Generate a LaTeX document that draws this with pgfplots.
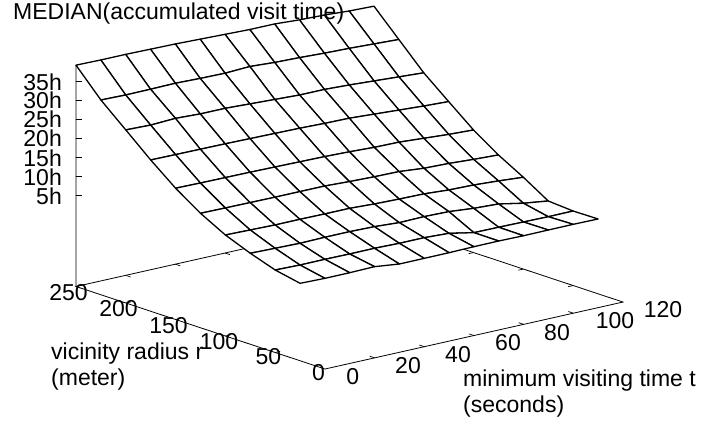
\documentclass[border=0pt]{standalone}
\usepackage{fontspec}
\setmainfont{Liberation Sans}
\usepackage{pgfplots}
\pgfplotsset{compat=1.18}

% t r z  (z in hours), one scanline per radius
\pgfplotstableread{
t r z
0 25 1.43
10 25 1.27
20 25 1.29
30 25 1.41
40 25 0.64
50 25 0.66
60 25 0.68
70 25 0.79
80 25 0.82
90 25 0.74
100 25 0.78
110 25 0.80
120 25 0.74
0 50 2.76
10 50 2.60
20 50 2.63
30 50 2.57
40 50 2.60
50 50 2.44
60 50 2.45
70 50 2.13
80 50 0.84
90 50 0.79
100 50 0.71
110 50 0.63
120 50 0.66
0 75 5.00
10 75 4.83
20 75 4.68
30 75 4.79
40 75 4.80
50 75 4.65
60 75 4.24
70 75 4.35
80 75 4.20
90 75 3.60
100 75 3.28
110 75 2.00
120 75 1.13
0 100 7.63
10 100 7.48
20 100 7.33
30 100 7.35
40 100 7.29
50 100 7.30
60 100 6.98
70 100 6.80
80 100 6.70
90 100 6.26
100 100 6.10
110 100 5.70
120 100 5.20
0 125 11.17
10 125 11.10
20 125 11.05
30 125 11.00
40 125 11.00
50 125 11.00
60 125 10.70
70 125 10.50
80 125 10.40
90 125 9.80
100 125 9.60
110 125 9.20
120 125 8.90
0 150 15.60
10 150 15.50
20 150 15.45
30 150 15.40
40 150 15.30
50 150 15.20
60 150 15.10
70 150 14.90
80 150 14.60
90 150 14.50
100 150 14.05
110 150 13.60
120 150 13.30
0 175 20.86
10 175 20.80
20 175 20.75
30 175 20.70
40 175 20.60
50 175 20.50
60 175 20.40
70 175 20.20
80 175 20.10
90 175 19.70
100 175 19.30
110 175 18.90
120 175 18.60
0 200 26.60
10 200 26.40
20 200 26.70
30 200 26.40
40 200 26.40
50 200 26.10
60 200 25.80
70 200 25.50
80 200 25.50
90 200 25.20
100 200 24.80
110 200 24.40
120 200 24.00
0 225 32.30
10 225 32.15
20 225 32.20
30 225 32.30
40 225 32.10
50 225 32.00
60 225 32.30
70 225 31.90
80 225 31.70
90 225 31.40
100 225 31.20
110 225 30.90
120 225 30.60
0 250 39.30
10 250 39.20
20 250 39.20
30 250 39.10
40 250 39.00
50 250 38.80
60 250 38.60
70 250 38.40
80 250 38.40
90 250 38.00
100 250 37.80
110 250 37.40
120 250 37.20
}\surfdata

\begin{document}
\begin{tikzpicture}[x=1pt,y=1pt]
\useasboundingbox (0,0) rectangle (701,425);
\begin{axis}[
    at={(325pt,128pt)}, anchor=origin,
    x={(2.483pt,0.558pt)}, y={(-0.996pt,0.33pt)}, z={(0pt,3.8pt)},
    xmin=0, xmax=120, ymin=0, ymax=250, zmin=-18.95, zmax=40,
    hide axis, clip=false,
    unbounded coords=jump,
  ]
  % base frame and z axis
  \addplot3[black, line width=0.8pt, no markers] coordinates {
    (0,0,-18.95) (120,0,-18.95) (120,250,-18.95) (0,250,-18.95) (0,0,-18.95)
    (nan,nan,nan)
    (0,250,-18.95) (0,250,39.3)
  };
  % ticks: z, then t and r on both edges of the base
  \addplot3[black, line width=0.7pt, no markers] coordinates {
    (0,250,5) (1.44,247.57,5) (nan,nan,nan)
    (0,250,10) (1.44,247.57,10) (nan,nan,nan)
    (0,250,15) (1.44,247.57,15) (nan,nan,nan)
    (0,250,20) (1.44,247.57,20) (nan,nan,nan)
    (0,250,25) (1.44,247.57,25) (nan,nan,nan)
    (0,250,30) (1.44,247.57,30) (nan,nan,nan)
    (0,250,35) (1.44,247.57,35) (nan,nan,nan)
    (20,0,-18.95) (20,5,-18.95) (nan,nan,nan)
    (40,0,-18.95) (40,5,-18.95) (nan,nan,nan)
    (60,0,-18.95) (60,5,-18.95) (nan,nan,nan)
    (80,0,-18.95) (80,5,-18.95) (nan,nan,nan)
    (100,0,-18.95) (100,5,-18.95) (nan,nan,nan)
    (20,250,-18.95) (20,245,-18.95) (nan,nan,nan)
    (40,250,-18.95) (40,245,-18.95) (nan,nan,nan)
    (60,250,-18.95) (60,245,-18.95) (nan,nan,nan)
    (80,250,-18.95) (80,245,-18.95) (nan,nan,nan)
    (100,250,-18.95) (100,245,-18.95) (nan,nan,nan)
    (118,50,-18.95) (120,50,-18.95) (nan,nan,nan)
    (118,100,-18.95) (120,100,-18.95) (nan,nan,nan)
    (118,150,-18.95) (120,150,-18.95) (nan,nan,nan)
    (118,200,-18.95) (120,200,-18.95) (nan,nan,nan)
    (0,50,-18.95) (2,50,-18.95) (nan,nan,nan)
    (0,100,-18.95) (2,100,-18.95) (nan,nan,nan)
    (0,150,-18.95) (2,150,-18.95) (nan,nan,nan)
    (0,200,-18.95) (2,200,-18.95)
  };
  % surface, white faces hide the frame behind it
  \addplot3[surf, mesh/cols=13, mesh/rows=10, shader=faceted,
    colormap={blank}{color=(white) color=(white)},
    faceted color=black, line width=1.3pt, line join=round]
    table[x=t,y=r,z=z] {\surfdata};
\end{axis}
\begin{scope}[font=\fontsize{23}{27}\selectfont, every node/.style={inner sep=0pt}]
  \node[anchor=base west] at (13,{425-20}) {MEDIAN(accumulated visit time)};
  \node[anchor=east] at (62,{425-82}) {35h};
  \node[anchor=east] at (62,{425-100.7}) {30h};
  \node[anchor=east] at (62,{425-119.5}) {25h};
  \node[anchor=east] at (62,{425-138.5}) {20h};
  \node[anchor=east] at (62,{425-158}) {15h};
  \node[anchor=east] at (62,{425-177}) {10h};
  \node[anchor=east] at (62,{425-196}) {5h};
  \node at (68.5,{425-293}) {250};
  \node at (118.5,{425-309}) {200};
  \node at (168.5,{425-326}) {150};
  \node at (219,{425-342}) {100};
  \node at (268.5,{425-357}) {50};
  \node at (318.5,{425-373}) {0};
  \node at (352.7,{425-377}) {0};
  \node at (408,{425-366}) {20};
  \node at (458,{425-355}) {40};
  \node at (508,{425-343}) {60};
  \node at (557,{425-333}) {80};
  \node at (615,{425-321}) {100};
  \node at (663,{425-310}) {120};
  \node[anchor=base west] at (51,{425-360}) {vicinity radius r};
  \node[anchor=base west] at (51,{425-385.7}) {(meter)};
  \node[anchor=base west] at (463,{425-386.7}) {minimum visiting time t};
  \node[anchor=base west] at (463,{425-413}) {(seconds)};
\end{scope}
\end{tikzpicture}
\end{document}
